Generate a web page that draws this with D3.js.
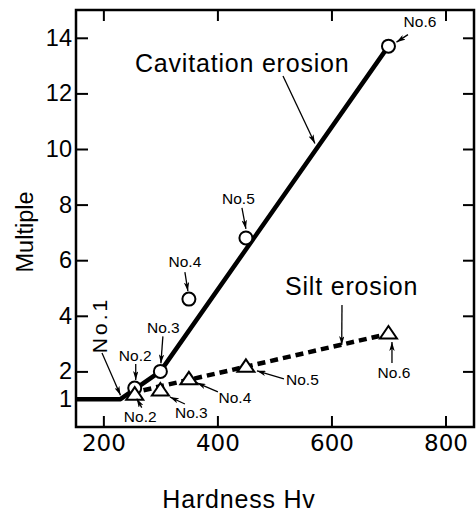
<!DOCTYPE html>
<html>
<head>
<meta charset="utf-8">
<script src="https://cdn.jsdelivr.net/npm/d3@7"></script>
<style>
body { margin: 0; background: #fff; }
svg { display: block; font-family: "Liberation Sans", Arial, sans-serif; }
</style>
</head>
<body>
<div class="canvas"></div>
<script>
// specimens and their hardness (Hv)
const specimens = ['No.2', 'No.3', 'No.4', 'No.5', 'No.6'];
const hardness = [255, 300, 350, 450, 700];

// multiples
const cavitation = [1.4, 2.0, 4.6, 6.8, 13.7];
const silt = [1.2, 1.35, 1.75, 2.2, 3.4];

// trend lines
const cavLineX = [152, 230, 300, 700];
const cavLineY = [1, 1, 2, 13.7];
const siltLineX = [255, 700];
const siltLineY = [1.25, 3.35];

// ticks
const xTicks = [200, 400, 600, 800];
const yTicks = [1, 2, 4, 6, 8, 10, 12, 14];

const svg = d3.select('.canvas')
    .append('svg')
    .attr('width', 476)
    .attr('height', 513);

const margin = {top: 10, right: 2, bottom: 86, left: 76};
const graphWidth = 476 - margin.left - margin.right;
const graphHeight = 513 - margin.top - margin.bottom;

const graph = svg.append('g')
    .attr('transform', `translate(${margin.left},${margin.top})`);

// scales
const x = d3.scaleLinear().domain([152, 850]).range([0, graphWidth]);
const y = d3.scaleLinear().domain([0, 15]).range([graphHeight, 0]);

// arrow head
svg.append('defs').append('marker')
    .attr('id', 'arrow')
    .attr('viewBox', '0 0 10 6')
    .attr('refX', 10).attr('refY', 3)
    .attr('markerWidth', 9).attr('markerHeight', 5.4)
    .attr('markerUnits', 'userSpaceOnUse')
    .attr('orient', 'auto')
    .append('path')
    .attr('d', 'M0,0 L10,3 L0,6 L2.5,3 Z')
    .attr('fill', '#000');

// axes (ticks point inward)
const xAxisGroup = graph.append('g').attr('transform', `translate(0,${graphHeight})`)
    .call(d3.axisBottom(x).tickValues(xTicks).tickSizeInner(-11).tickSizeOuter(0).tickPadding(8));
const xTopGroup = graph.append('g')
    .call(d3.axisTop(x).tickValues(xTicks).tickSizeInner(-11).tickSizeOuter(0).tickFormat(''));
const yAxisGroup = graph.append('g')
    .call(d3.axisLeft(y).tickValues(yTicks).tickSizeInner(-12).tickSizeOuter(0).tickPadding(4));
const yRightGroup = graph.append('g').attr('transform', `translate(${graphWidth},0)`)
    .call(d3.axisRight(y).tickValues(yTicks.slice(1)).tickSizeInner(-11).tickSizeOuter(0).tickFormat(''));

[xAxisGroup, xTopGroup, yAxisGroup, yRightGroup].forEach(g => {
    g.select('.domain').remove();
    g.selectAll('line').attr('stroke', '#000').attr('stroke-width', 2);
});

xAxisGroup.selectAll('text')
    .attr('font-family', '"DejaVu Sans", sans-serif')
    .attr('font-size', 23)
    .attr('fill', '#000');
yAxisGroup.selectAll('text')
    .attr('font-family', '"Liberation Sans", Arial, sans-serif')
    .attr('font-size', 23.5)
    .attr('fill', '#000');

// frame
graph.append('rect')
    .attr('width', graphWidth)
    .attr('height', graphHeight)
    .attr('fill', 'none')
    .attr('stroke', '#000')
    .attr('stroke-width', 2.5);

// trend lines
const line = d3.line().x(d => x(d[0])).y(d => y(d[1]));

graph.append('path')
    .attr('d', line(d3.zip(cavLineX, cavLineY)))
    .attr('fill', 'none')
    .attr('stroke', '#000')
    .attr('stroke-width', 4.5)
    .attr('stroke-linejoin', 'round');

graph.append('path')
    .attr('d', line(d3.zip(siltLineX, siltLineY)))
    .attr('fill', 'none')
    .attr('stroke', '#000')
    .attr('stroke-width', 4.5)
    .attr('stroke-dasharray', '8,5')
    .attr('stroke-dashoffset', 4);

// markers
graph.selectAll('circle.cav')
    .data(d3.zip(hardness, cavitation))
    .enter().append('circle')
    .attr('class', 'cav')
    .attr('cx', d => x(d[0]))
    .attr('cy', d => y(d[1]))
    .attr('r', 6.5)
    .attr('fill', '#fff')
    .attr('stroke', '#000')
    .attr('stroke-width', 2);

graph.selectAll('path.silt')
    .data(d3.zip(hardness, silt))
    .enter().append('path')
    .attr('class', 'silt')
    .attr('d', 'M0,-6.5 L8.5,6 L-8.5,6 Z')
    .attr('transform', d => `translate(${x(d[0])},${y(d[1])})`)
    .attr('fill', '#fff')
    .attr('stroke', '#000')
    .attr('stroke-width', 2)
    .attr('stroke-linejoin', 'miter');

// specimen labels: offsets from marker for text and arrow
const cavLabelOffsets = [[0.5, -33, 1, -24, 1, -8], [3, -43.5, 2.5, -35, 0.5, -8], [-4, -38, -4, -27, -1, -8],
    [-7.5, -39, -4, -30, 0, -9], [31.5, -24.5, 19.5, -11.5, 8, -4]];
const siltLabelOffsets = [[5.5, 23, 7, 14, 2, 5], [31, 23.5, 24.5, 14.5, 9.5, 7.5], [46, 19.5, 29, 13.5, 8, 4.5],
    [56.5, 14, 38, 13, 11, 5], [5.5, 40.5, 3.5, 30.5, 3.5, 9.5]];

const addLabels = (values, offsets) => {
    values.forEach((v, i) => {
        const px = x(hardness[i]), py = y(v), o = offsets[i];
        graph.append('text')
            .attr('x', px + o[0]).attr('y', py + o[1])
            .attr('dy', '0.35em')
            .attr('text-anchor', 'middle')
            .attr('font-size', 15.5)
            .text(specimens[i]);
        graph.append('line')
            .attr('x1', px + o[2]).attr('y1', py + o[3])
            .attr('x2', px + o[4]).attr('y2', py + o[5])
            .attr('stroke', '#000').attr('stroke-width', 1.3)
            .attr('marker-end', 'url(#arrow)');
    });
};
addLabels(cavitation, cavLabelOffsets);
addLabels(silt, siltLabelOffsets);

// series annotations
const annot = (txt, tx, ty, from, to) => {
    graph.append('text')
        .attr('x', tx).attr('y', ty)
        .attr('font-size', 25)
        .attr('letter-spacing', 0.8)
        .text(txt);
    graph.append('line')
        .attr('x1', from[0]).attr('y1', from[1])
        .attr('x2', x(to[0])).attr('y2', y(to[1]))
        .attr('stroke', '#000').attr('stroke-width', 1.3)
        .attr('marker-end', 'url(#arrow)');
};
annot('Cavitation erosion', 59, 62, [207, 66], [571, 10.2]);
annot('Silt erosion', 209, 285, [266, 295], [618, 2.95]);

// No.1 label
graph.append('text')
    .attr('transform', 'translate(31,315) rotate(-90)')
    .attr('text-anchor', 'middle')
    .attr('font-size', 21)
    .attr('letter-spacing', 3)
    .text('No.1');
graph.append('line')
    .attr('x1', 26).attr('y1', 343)
    .attr('x2', x(230)).attr('y2', y(1) - 4)
    .attr('stroke', '#000').attr('stroke-width', 1.3)
    .attr('marker-end', 'url(#arrow)');

// axis titles
svg.append('text')
    .attr('x', 239).attr('y', 508)
    .attr('text-anchor', 'middle')
    .attr('font-size', 25)
    .attr('letter-spacing', 0.8)
    .text('Hardness Hv');

svg.append('text')
    .attr('transform', 'translate(33,232) rotate(-90)')
    .attr('text-anchor', 'middle')
    .attr('font-size', 23.5)
    .text('Multiple');
</script>
</body>
</html>
